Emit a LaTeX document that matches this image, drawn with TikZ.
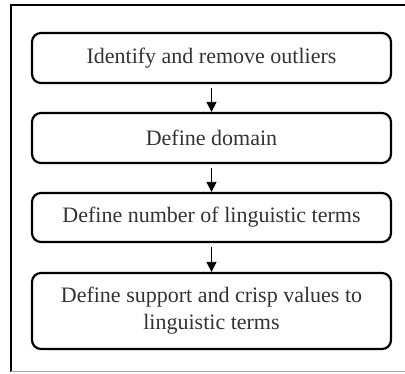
\documentclass[tikz,border=0pt]{standalone}
\usepackage{fontspec}
\setmainfont{Liberation Serif}
\usetikzlibrary{arrows.meta}
\begin{document}
\begin{tikzpicture}[x=1pt,y=-1pt,
  stepbox/.style={draw=black,line width=2.2pt,rounded corners=9pt,minimum width=359pt,align=center,font=\fontsize{22}{27}\selectfont,text=black!80},
  conn/.style={draw=black,line width=0.8pt,shorten <=4pt,-{Triangle[length=10pt,width=10pt]}}]
\useasboundingbox (0,0) rectangle (405,374);
\draw[line width=2pt] (410,5) -- (10.5,5) -- (10.5,372);
\draw[line width=1pt,black!35] (10.5,372) -- (410,372);
\node[stepbox,minimum height=50pt] (a) at (211.5,58) {Identify and remove outliers};
\node[stepbox,minimum height=50pt] (b) at (211.5,138) {Define domain};
\node[stepbox,minimum height=49pt] (c) at (211.5,217.5) {Define number of linguistic terms};
\node[stepbox,minimum height=76pt] (d) at (211.5,311) {Define support and crisp values to\\linguistic terms};
\draw[conn] (a) -- (b);
\draw[conn] (b) -- (c);
\draw[conn] (c) -- (d);
\end{tikzpicture}
\end{document}
